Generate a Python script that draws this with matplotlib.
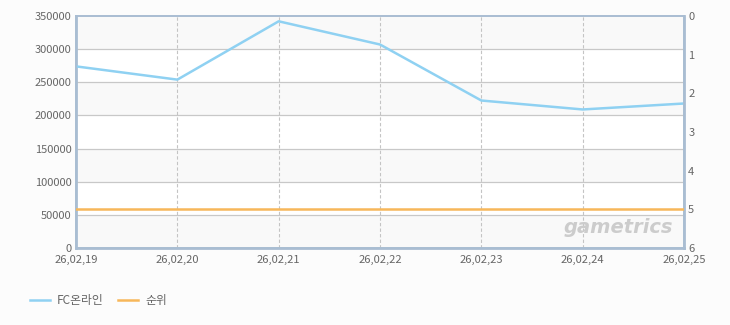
import matplotlib.pyplot as plt

plt.rcParams['font.family'] = ['Noto Sans CJK KR', 'DejaVu Sans']

# data
dates = ["26,02,19", "26,02,20", "26,02,21", "26,02,22", "26,02,23", "26,02,24", "26,02,25"]
users = [274000, 254000, 342000, 307000, 222500, 209000, 218000]
rank = [5, 5, 5, 5, 5, 5, 5]
yticks = [0, 50000, 100000, 150000, 200000, 250000, 300000, 350000]
rticks = [0, 1, 2, 3, 4, 5, 6]

blue = "#8fd1f2"
orange = "#f7b75a"
spine = "#a9bdd2"
tick_col = "#666666"

fig = plt.figure(figsize=(7.3, 3.25), dpi=100)
fig.patch.set_facecolor("#fcfcfc")
ax = fig.add_axes([76 / 730, 1 - 248 / 325, (684 - 76) / 730, (248 - 16) / 325])
ax.set_facecolor("white")

x = list(range(len(dates)))

# alternating bands
for i in range(len(yticks) - 1):
    if (len(yticks) - 2 - i) % 2 == 0:
        ax.axhspan(yticks[i], yticks[i + 1], color="#f9f9f9", zorder=0, lw=0)

for y in yticks[1:-1]:
    ax.axhline(y, color="#c8c8c8", lw=0.9, zorder=1)
for xi in x[1:-1]:
    ax.axvline(xi, color="#c4c4c4", lw=0.8, ls=(0, (3, 2)), zorder=1)

ax.plot(x, users, color=blue, lw=1.8, zorder=3, label="FC온라인")
ax.set_xlim(0, len(dates) - 1)
ax.set_ylim(0, 350000)
ax.set_yticks(yticks)
ax.set_yticklabels([str(v) for v in yticks])
ax.set_xticks(x)
ax.set_xticklabels(dates)

ax2 = ax.twinx()
ax2.plot(x, rank, color=orange, lw=1.8, zorder=3, label="순위")
ax2.set_ylim(6, 0)
ax2.set_yticks(rticks)

for a in (ax, ax2):
    a.tick_params(length=0, labelsize=8, colors=tick_col, pad=3)
    for s in a.spines.values():
        s.set_color(spine)
        s.set_linewidth(1.2)
ax.spines["left"].set_linewidth(2)
ax.spines["bottom"].set_linewidth(2)
ax2.spines["right"].set_linewidth(2)
ax.tick_params(axis="x", pad=5)

fig.text(0.922, 0.30, "gametrics", ha="right", va="center", fontsize=14,
         fontstyle="italic", fontweight="bold", color="#cccccc", family="DejaVu Sans")

h1, l1 = ax.get_legend_handles_labels()
h2, l2 = ax2.get_legend_handles_labels()
fig.legend(h1 + h2, l1 + l2, loc="center left", bbox_to_anchor=(0.041, 0.075), ncol=2,
           frameon=False, fontsize=8.5, labelcolor=tick_col, handlelength=1.7,
           columnspacing=1.2, handletextpad=0.6, borderpad=0, borderaxespad=0)

fig.savefig("out.png", dpi=100, facecolor=fig.get_facecolor())
plt.close()
